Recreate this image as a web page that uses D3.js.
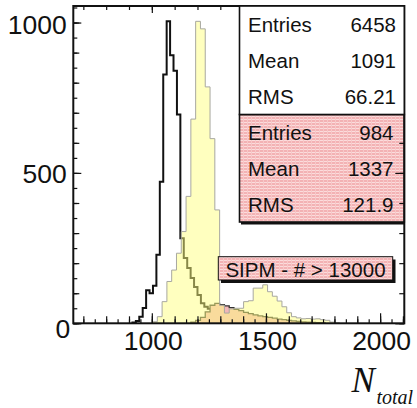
<!DOCTYPE html>
<html>
<head>
<meta charset="utf-8">
<script src="https://cdn.jsdelivr.net/npm/d3@7"></script>
<style>
  body { margin: 0; background: #fff; }
  svg { display: block; }
  text { font-family: "Liberation Sans", Arial, sans-serif; fill: #111; }
</style>
</head>
<body>
<svg id="chart" width="417" height="408"></svg>
<script>
const d3 = window.d3

// black histogram: bins of 15 starting at 915
const blackStart = 915
const blackWidth = 15
const blackCounts = [3, 8, 22, 51, 110, 100, 125, 228, 471, 827, 1004, 891, 840, 694, 283,
  217, 184, 151, 121, 94, 67, 55, 48, 38, 30, 24, 18, 15, 12, 10, 8, 6, 5, 4, 3, 2, 2, 1]

// yellow histogram: bins of 21 starting at 1003
const yellowStart = 1003
const yellowWidth = 21
const yellowCounts = [5, 22, 72, 139, 177, 233, 305, 422, 679, 1004, 979, 786, 614, 377, 60,
  34, 48, 50, 50, 72, 75, 117, 117, 128, 105, 90, 74, 55, 35, 22, 18, 15, 16, 14, 15, 12, 10, 4, 2]

// pink histogram (SIPM - # > 13000), same binning as yellow
const pinkStart = 1171
const pinkWidth = 21
const pinkCounts = [4, 10, 20, 38, 60, 66, 62, 58, 52, 46, 42, 36, 32, 28, 25, 22, 20, 17,
  14, 12, 10, 8, 6, 5, 4, 3, 2, 2]

const statsBlack = [['Entries', '6458'], ['Mean', '1091'], ['RMS', '66.21']]
const statsPink = [['Entries', '984'], ['Mean', '1337'], ['RMS', '121.9']]
const labelText = 'SIPM - # > 13000'

const xDomain = [656, 2106]
const yDomain = [0, 1055]
const xLabels = [1000, 1500, 2000]
const yLabels = [0, 500, 1000]

const L = 73.3, R = 404.3, T = 6, B = 323.3

const svg = d3.select('#chart')
const x = d3.scaleLinear().domain(xDomain).range([L, R])
const y = d3.scaleLinear().domain(yDomain).range([B, T])

const defs = svg.append('defs')
const pat = defs.append('pattern').attr('id', 'hatch')
  .attr('width', 4).attr('height', 3).attr('patternUnits', 'userSpaceOnUse')
pat.append('rect').attr('width', 4).attr('height', 3).attr('fill', '#f3b2b4')
pat.append('rect').attr('y', 2).attr('width', 4).attr('height', 1).attr('fill', '#fbdcdc')
pat.append('rect').attr('x', 3).attr('width', 1).attr('height', 3).attr('fill', '#f7c8c8')

defs.append('clipPath').attr('id', 'frameClip')
  .append('rect').attr('x', L).attr('y', T).attr('width', R - L).attr('height', B - T)

function histPoints (start, width, counts) {
  const pts = [[start, 0], [start, counts[0]]]
  counts.forEach((c, i) => { if (i > 0) pts.push([start + i * width, c]) })
  pts.push([start + counts.length * width, 0])
  return pts
}

const line = d3.line()
  .x(d => x(d[0]))
  .y(d => y(d[1]))
  .curve(d3.curveStepAfter)

const plot = svg.append('g').attr('clip-path', 'url(#frameClip)')

plot.append('path')
  .attr('d', line(histPoints(blackStart, blackWidth, blackCounts)))
  .attr('fill', 'none')
  .attr('stroke', '#111')
  .attr('stroke-width', 2)

plot.append('path')
  .attr('d', line(histPoints(pinkStart, pinkWidth, pinkCounts)))
  .attr('fill', '#f2b6b8')
  .attr('stroke', '#333')
  .attr('stroke-width', 1.3)

plot.append('path')
  .attr('d', line(histPoints(yellowStart, yellowWidth, yellowCounts)))
  .attr('fill', 'rgb(255,255,128)')
  .attr('fill-opacity', 0.5)
  .attr('stroke', '#a8a8a0')
  .attr('stroke-width', 1)

// stats boxes
function statsBox (rows, top, bottom, fill, valueX) {
  const g = svg.append('g')
  g.append('rect')
    .attr('x', 239.5).attr('y', top)
    .attr('width', R - 239.5).attr('height', bottom - top)
    .attr('fill', fill)
    .attr('stroke', '#111').attr('stroke-width', 1.6)
  const rowH = (bottom - top) / rows.length
  rows.forEach((r, i) => {
    const base = top + rowH * i + rowH * 0.5 + 7.5
    g.append('text').attr('x', 248).attr('y', base)
      .style('font-size', '20.5px').text(r[0])
    g.append('text').attr('x', valueX).attr('y', base)
      .attr('text-anchor', 'end')
      .style('font-size', '20.5px').text(r[1])
  })
  return g
}

// red stats box sits under the axis ticks
const pinkBox = statsBox(statsPink, 114.5, 222, 'url(#hatch)', 393.5)
pinkBox.insert('rect', ':first-child')
  .attr('x', 241).attr('y', 115).attr('width', R - 241).attr('height', 109.5)
  .attr('fill', '#111')

// axes: three tick levels each side
const fmt = d3.format('d')
function ticks (axisFn, values, size, labels) {
  const a = axisFn.tickValues(values).tickSizeInner(size).tickSizeOuter(0)
  a.tickFormat(labels ? fmt : '')
  return a
}

const xAxisG = svg.append('g')
xAxisG.append('g').attr('transform', `translate(0,${B})`)
  .call(ticks(d3.axisBottom(x), d3.range(700, 2101, 50), -4))
xAxisG.append('g').attr('transform', `translate(0,${B})`)
  .call(ticks(d3.axisBottom(x), d3.range(700, 2101, 100), -7))
xAxisG.append('g').attr('transform', `translate(0,${B})`)
  .call(ticks(d3.axisBottom(x), xLabels, -10, true))
xAxisG.append('g').attr('transform', `translate(0,${T})`)
  .call(ticks(d3.axisTop(x), d3.range(700, 2101, 100), -4))
xAxisG.append('g').attr('transform', `translate(0,${T})`)
  .call(ticks(d3.axisTop(x), xLabels, -7))

const yAxisG = svg.append('g')
yAxisG.append('g').attr('transform', `translate(${L},0)`)
  .call(ticks(d3.axisLeft(y), d3.range(0, 1051, 50), -4))
yAxisG.append('g').attr('transform', `translate(${L},0)`)
  .call(ticks(d3.axisLeft(y), d3.range(0, 1051, 100), -6))
yAxisG.append('g').attr('transform', `translate(${L},0)`)
  .call(ticks(d3.axisLeft(y), yLabels, -8, true))
yAxisG.append('g').attr('transform', `translate(${R},0)`)
  .call(ticks(d3.axisRight(y), d3.range(0, 1051, 100), -5))
yAxisG.append('g').attr('transform', `translate(${R},0)`)
  .call(ticks(d3.axisRight(y), yLabels, -9))

svg.selectAll('.domain').remove()
svg.selectAll('.tick line').attr('stroke', '#111').attr('stroke-width', 1.2)

xAxisG.selectAll('text')
  .style('font-size', '26.5px')
  .style('font-family', '"Liberation Sans", Arial, sans-serif')
  .attr('fill', '#111')
  .attr('y', 8)
  .attr('dy', '0.71em')
  .attr('dx', 1)

yAxisG.selectAll('text')
  .style('font-size', '26.5px')
  .style('font-family', '"Liberation Sans", Arial, sans-serif')
  .attr('fill', '#111')
  .attr('x', -6.5)
  .attr('dy', d => d === 0 ? '0.55em' : d === 1000 ? '0.42em' : '0.35em')
  .attr('dx', d => d === 0 ? 3.5 : 0)

// frame
svg.append('rect')
  .attr('x', L).attr('y', T)
  .attr('width', R - L).attr('height', B - T)
  .attr('fill', 'none')
  .attr('stroke', '#111')
  .attr('stroke-width', 2)

// white stats box over the ticks
statsBox(statsBlack, T, 114.5, '#fff', 396)

// label box with shadow
const lb = svg.append('g')
lb.append('rect').attr('x', 221).attr('y', 259.5).attr('width', 174.5).attr('height', 23.5).attr('fill', '#111')
lb.append('rect').attr('x', 218.3).attr('y', 256.7).attr('width', 174.4).attr('height', 23.3)
  .attr('fill', 'url(#hatch)').attr('stroke', '#111').attr('stroke-width', 1)
lb.append('text').attr('x', 305.5).attr('y', 276.5)
  .attr('text-anchor', 'middle')
  .style('font-size', '20.5px').text(labelText)

// axis title
const title = svg.append('text')
  .attr('x', 351.5).attr('y', 391.5)
  .style('font-family', '"Liberation Serif", "Times New Roman", serif')
  .style('font-style', 'italic')
title.append('tspan').style('font-size', '35px').text('N')
title.append('tspan').attr('x', 376.5).attr('y', 404)
  .style('font-size', '20px').text('total')
</script>
</body>
</html>
